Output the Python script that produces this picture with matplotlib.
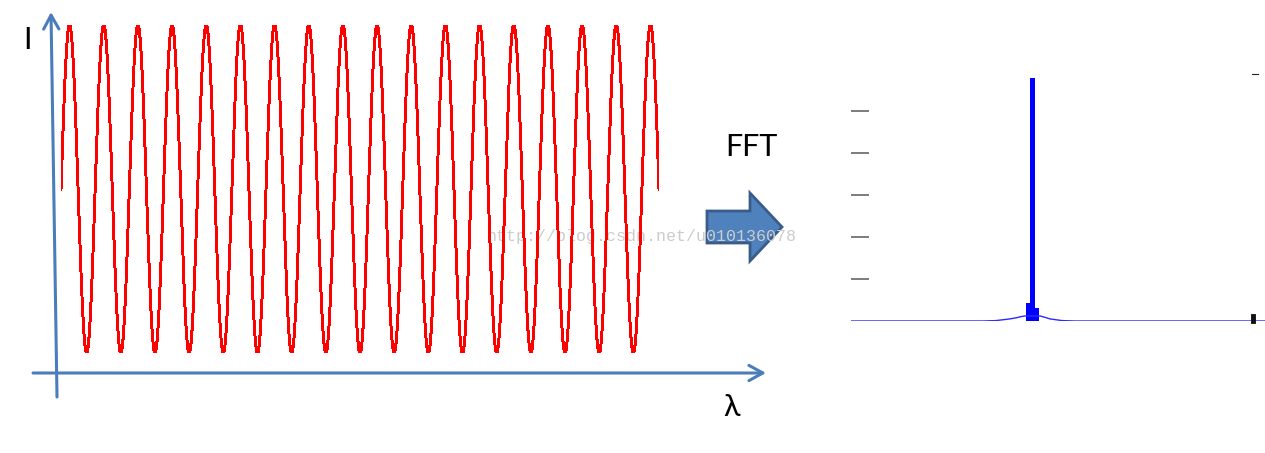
"""
Interferogram -> FFT sketch: cosine fringes on the left, spectrum with one line on the right
"""

import numpy as np
import matplotlib.pyplot as plt
from matplotlib.patches import FancyArrow

# ── DATA ──────────────────────────────────────────────────────────────────────

# left panel: intensity signal
n_cycles = 17.5
n_samples = 3000
intensity_amp = 1.0

# right panel: spectrum (bin index, magnitude)
wing_bins = [0, 132, 145, 159, 166, 169, 174, 189, 195, 199, 205, 211, 224, 414]
wing_mag = [0, 0, 0.01, 0.05, 0.08, 0.10, 0.12, 0.12, 0.08, 0.05, 0.03, 0.01, 0, 0]
line_bins = [177, 181.5, 185.5]
line_mag = [0.43, 5.79, 0.31]
spec_ticks = [1, 2, 3, 4, 5]
spec_top = 5.88

label_y = "I"
label_x = "λ"
label_fft = "FFT"
watermark = "http://blog.csdn.net/u010136078"

# ── FIGURE ────────────────────────────────────────────────────────────────────

W, H = 1265, 453
fig = plt.figure(figsize=(W / 100, H / 100), dpi=100)
fig.patch.set_facecolor("white")

def frac(px, py):
    return px / W, 1 - py / H

AXIS_BLUE = "#4a7ebb"

# overlay in pixel units for the hand-drawn decorations
deco = fig.add_axes([0, 0, 1, 1])
deco.set_xlim(0, W)
deco.set_ylim(H, 0)
deco.axis("off")

# axis arrows
arrow_kw = dict(arrowstyle="->,head_length=1.0,head_width=0.55",
                color=AXIS_BLUE, lw=2.2, shrinkA=0, shrinkB=0)
deco.annotate("", xy=(51, 12), xytext=(57, 397), arrowprops=arrow_kw)
deco.annotate("", xy=(766, 373), xytext=(33, 373), arrowprops=arrow_kw)

txt_font = ["Lato", "DejaVu Sans"]
deco.text(27, 40, label_y, fontsize=22, family=txt_font, ha="center", va="center")
deco.text(732, 407, label_x, fontsize=22, family=txt_font, ha="center", va="center")
deco.text(751, 147, label_fft, fontsize=22, family=txt_font, ha="center", va="center")

# block arrow
deco.add_patch(FancyArrow(707, 227, 75, 0, width=32, head_width=68, head_length=32,
                          length_includes_head=True, fc="#4f81bd", ec="#385d8a", lw=2))

# ── LEFT: SIGNAL ──────────────────────────────────────────────────────────────

x0, y0 = frac(61, 353)
x1, y1 = frac(659, 25)
ax = fig.add_axes([x0, y0, x1 - x0, y1 - y0])
ax.patch.set_alpha(0)
t = np.linspace(0, n_cycles, n_samples)
ax.plot(t, intensity_amp * np.sin(2 * np.pi * t), color="#ff0000", lw=1.4,
        antialiased=False)
ax.set_xlim(0, n_cycles)
ax.set_ylim(-intensity_amp, intensity_amp)
ax.axis("off")

# ── RIGHT: SPECTRUM ───────────────────────────────────────────────────────────

x0, y0 = frac(851, 321)
x1, y1 = frac(1265, 74)
ax = fig.add_axes([x0, y0, x1 - x0, y1 - y0])
ax.patch.set_alpha(0)
ax.plot(wing_bins, wing_mag, color="#2a2aff", lw=1.0)
ax.bar(line_bins, line_mag, width=[4, 4.5, 5], color="#0000ff", linewidth=0)
ax.set_xlim(0, 414)
ax.set_ylim(0, spec_top)
ax.set_yticks(spec_ticks)
ax.set_yticklabels([])
ax.set_xticks([])
ax.tick_params(axis="y", direction="in", length=13, width=1.2, colors="#666666", pad=0)
for s in ax.spines.values():
    s.set_visible(False)
# leftover right-hand tick marks
ax.plot([0.969, 0.983], [1, 1], transform=ax.transAxes, color="#222222", lw=0.8,
        clip_on=False)
ax.plot([0.972, 0.972], [0, 0.02], transform=ax.transAxes, color="#111111", lw=3.5,
        clip_on=False)

# watermark
deco.text(642, 237, watermark, fontsize=12, family="Liberation Mono",
          color="#cccccc", ha="center", va="center", zorder=10)

plt.savefig("out.png", dpi=100)
